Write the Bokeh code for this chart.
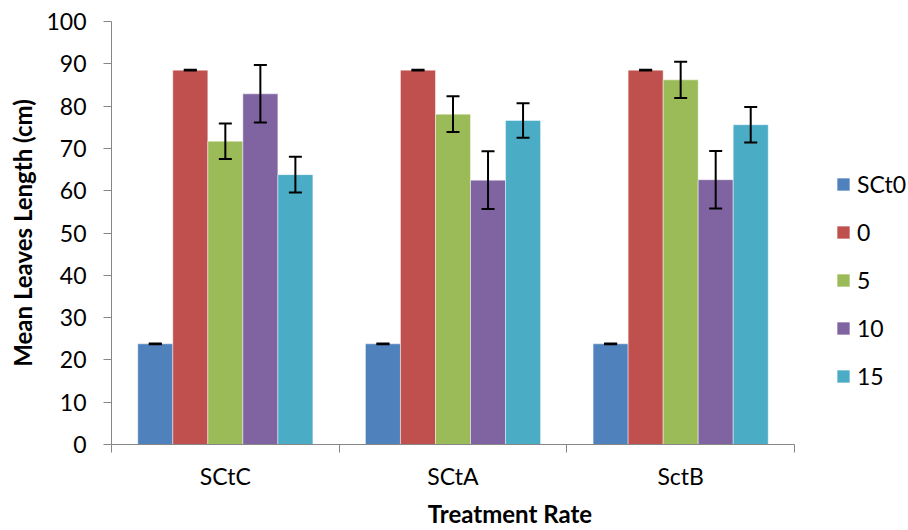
import numpy as np
from bokeh.plotting import figure
from bokeh.models import (ColumnDataSource, FixedTicker, Whisker, TeeHead,
                          Legend, LegendItem, Range1d)
from bokeh.transform import dodge
from bokeh.embed import file_html
from bokeh.resources import INLINE

# ---- data ----
categories = ["SCtC", "SCtA", "SctB"]
series = ["SCt0", "0", "5", "10", "15"]
colors = ["#4F81BD", "#C0504D", "#9BBB59", "#8064A2", "#4BACC6"]

sct0_vals = [23.8, 23.8, 23.8]
r0_vals = [88.5, 88.5, 88.5]
r5_vals = [71.7, 78.1, 86.2]
r10_vals = [82.9, 62.5, 62.6]
r15_vals = [63.8, 76.6, 75.6]

sct0_err = [0.1, 0.1, 0.1]
r0_err = [0.1, 0.1, 0.1]
r5_err = [4.2, 4.2, 4.3]
r10_err = [6.8, 6.8, 6.8]
r15_err = [4.2, 4.1, 4.2]

y_ticks = [0, 10, 20, 30, 40, 50, 60, 70, 80, 90, 100]

all_vals = [sct0_vals, r0_vals, r5_vals, r10_vals, r15_vals]
all_errs = [sct0_err, r0_err, r5_err, r10_err, r15_err]

FONT = "Lato"
FS = "23px"
FS_TITLE = "24px"

# layout (pixels)
W, H = 908, 530
LEFT, TOP, BOTTOM = 111, 21, 86
AXIS_RIGHT_PX = 794          # where the category axis ends
n = len(categories)
frame_w = W - LEFT
x_end = n * frame_w / (AXIS_RIGHT_PX - LEFT)

p = figure(width=W, height=H, output_backend="svg", toolbar_location=None,
           x_range=Range1d(0, x_end), y_range=Range1d(0, 100),
           min_border_left=LEFT, min_border_right=0, min_border_top=TOP,
           min_border_bottom=BOTTOM)
p.outline_line_color = None
p.grid.visible = False
p.background_fill_color = "white"
p.border_fill_color = "white"

bar_w = 1.0 / 6.5
centers = np.arange(n) + 0.5

items = []
for i, (name, vals, errs, col) in enumerate(zip(series, all_vals, all_errs, colors)):
    vals = np.array(vals, dtype=float)
    errs = np.array(errs, dtype=float)
    src = ColumnDataSource(dict(x=centers, top=vals, upper=vals + errs, lower=vals - errs))
    off = (i - 2) * bar_w
    r = p.vbar(x=dodge("x", off), top="top", bottom=0, width=bar_w, source=src,
               fill_color=col, line_color="white", line_alpha=0.45, line_width=1)
    w = Whisker(base=dodge("x", off), upper="upper", lower="lower", source=src,
                level="overlay", line_color="black", line_width=2,
                upper_head=TeeHead(size=13, line_color="black", line_width=2),
                lower_head=TeeHead(size=13, line_color="black", line_width=2))
    p.add_layout(w)
    items.append(LegendItem(label=name, renderers=[r]))

# y axis
ya = p.yaxis[0]
ya.ticker = FixedTicker(ticks=y_ticks, minor_ticks=[])
ya.axis_line_color = "#868686"
ya.major_tick_line_color = "#868686"
ya.major_tick_out = 8
ya.major_tick_in = 0
ya.minor_tick_line_color = None
ya.major_label_standoff = 17
ya.major_label_text_font = FONT
ya.major_label_text_font_size = FS
ya.major_label_text_color = "black"
ya.axis_label = "Mean Leaves Length (cm)"
ya.axis_label_text_font = FONT
ya.axis_label_text_font_style = "bold"
ya.axis_label_text_font_size = FS_TITLE
ya.axis_label_text_color = "black"
ya.axis_label_standoff = 6

# x axis
xa = p.xaxis[0]
xa.bounds = (0, n)
xa.ticker = FixedTicker(ticks=list(centers), minor_ticks=list(range(n + 1)))
xa.major_label_overrides = {float(c): nm for c, nm in zip(centers, categories)}
xa.axis_line_color = "#868686"
xa.major_tick_line_color = None
xa.major_tick_out = 0
xa.major_tick_in = 0
xa.minor_tick_line_color = "#868686"
xa.minor_tick_out = 8
xa.minor_tick_in = 0
xa.major_label_standoff = 9
xa.major_label_text_font = FONT
xa.major_label_text_font_size = FS
xa.major_label_text_color = "black"
xa.axis_label = "Treatment Rate"
xa.axis_label_text_font = FONT
xa.axis_label_text_font_style = "bold"
xa.axis_label_text_font_size = FS_TITLE
xa.axis_label_text_color = "black"
xa.axis_label_standoff = 6
xa.axis_label_align = "center"

legend = Legend(items=items, location=(724, 54), orientation="vertical",
                padding=0, margin=0, spacing=20, label_height=28,
                glyph_width=16, glyph_height=16, label_standoff=6,
                label_text_font=FONT, label_text_font_size=FS,
                label_text_color="black", border_line_color=None,
                background_fill_alpha=0)
p.add_layout(legend)

open("out.html", "w").write(file_html(p, INLINE))
